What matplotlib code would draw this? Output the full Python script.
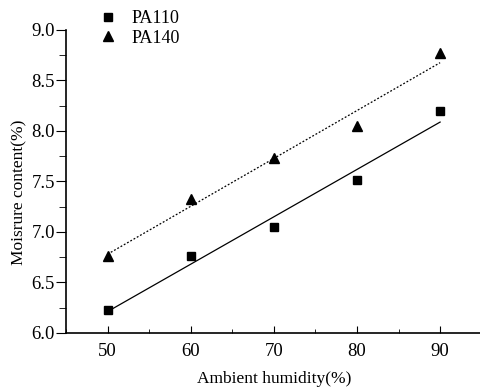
import numpy as np
import matplotlib.pyplot as plt
from matplotlib.ticker import MultipleLocator

plt.rcParams['font.family'] = ['Liberation Serif', 'DejaVu Serif']

humidity = np.array([50, 60, 70, 80, 90])
pa110 = np.array([6.23, 6.76, 7.05, 7.51, 8.20])
pa140 = np.array([6.76, 7.33, 7.73, 8.05, 8.77])

fig = plt.figure(figsize=(4.8, 3.89), dpi=100)
ax = fig.add_axes([0.1375, 0.144, 0.866, 0.779])

# linear fits
k1, b1 = np.polyfit(humidity, pa110, 1)
k2, b2 = np.polyfit(humidity, pa140, 1)
ax.plot(humidity, k1 * humidity + b1, color='black', lw=0.9)
ax.plot(humidity, k2 * humidity + b2, color='black', lw=0.9, linestyle=(0, (1.5, 1.5)))

ax.plot(humidity, pa110, 's', color='black', ms=6, label='PA110')
ax.plot(humidity, pa140, '^', color='black', ms=7, label='PA140')

ax.set_xlim(45, 95)
ax.set_ylim(6.0, 9.0)
ax.xaxis.set_major_locator(MultipleLocator(10))
ax.xaxis.set_minor_locator(MultipleLocator(5))
ax.yaxis.set_major_locator(MultipleLocator(0.5))
ax.yaxis.set_minor_locator(MultipleLocator(0.25))
ax.yaxis.set_major_formatter(plt.FormatStrFormatter('%.1f'))

ax.spines['top'].set_visible(False)
ax.spines['right'].set_visible(False)
ax.spines['left'].set_linewidth(1.2)
ax.spines['bottom'].set_linewidth(1.2)
ax.tick_params(axis='x', which='both', direction='in', labelsize=13.5, pad=7)
ax.tick_params(axis='x', which='major', length=5)
ax.tick_params(axis='x', which='minor', length=3)
ax.tick_params(axis='y', which='both', direction='out', labelsize=13.5, pad=1)
ax.tick_params(axis='y', which='major', length=7)
ax.tick_params(axis='y', which='minor', length=5)

ax.set_xlabel('Ambient humidity(%)', fontsize=12.5, labelpad=8)
ax.set_ylabel('Moisrure content(%)', fontsize=12.5)
ax.yaxis.set_label_coords(-0.094, 0.465)

ax.legend(loc='upper left', bbox_to_anchor=(0.05, 1.09), frameon=False,
          fontsize=13, handletextpad=0.6, labelspacing=0.15, borderaxespad=0,
          handlelength=1.5)

fig.savefig('out.png', dpi=100)
